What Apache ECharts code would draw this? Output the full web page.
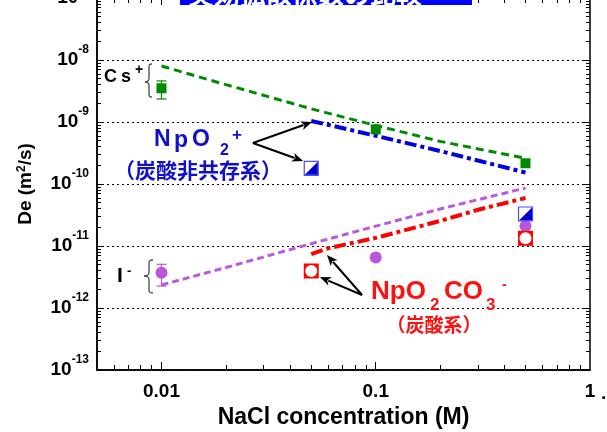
<!DOCTYPE html>
<html>
<head>
<meta charset="utf-8">
<script src="https://cdn.jsdelivr.net/npm/echarts@6/dist/echarts.min.js"></script>
<style>
  html, body { margin: 0; padding: 0; background: #fff; }
  #chart { width: 607px; height: 432px; }
</style>
</head>
<body>
<div id="chart"></div>
<script>
// Axis ranges and tick labels
const X_MIN = 0.005, X_MAX = 1;
const Y_MIN = 1e-13, Y_MAX = 1e-7;
const xMajorTicks = [0.01, 0.1, 1];
const xTickLabels = ['0.01', '0.1', '1'];

// Measured effective diffusivities (m2/s) vs NaCl concentration (M)
const csConc = [0.01, 0.1, 0.5];
const csDe = [3.5e-9, 7.6e-10, 2.16e-10];
const csErrConc = [0.01];
const csErrLow = [2.35e-9];
const csErrHigh = [4.6e-9];

const iConc = [0.01, 0.1, 0.5];
const iDe = [3.7e-12, 6.5e-12, 2.1e-11];
const iErrConc = [0.01];
const iErrLow = [2.26e-12];
const iErrHigh = [5.07e-12];

const npConc = [0.05, 0.5];
const npDe = [1.79e-10, 3.28e-11];

const npcConc = [0.05, 0.5];
const npcDe = [3.95e-12, 1.33e-11];

// Calculated curves
const csLineConc = [0.01, 0.02, 0.05, 0.1, 0.2, 0.5];
const csLineDe = [8.0e-9, 4.0e-9, 1.63e-9, 8.8e-10, 4.87e-10, 2.6e-10];

const npLineConc = [0.05, 0.1, 0.2, 0.5];
const npLineDe = [1.04e-9, 6.0e-10, 3.4e-10, 1.53e-10];

const iLineConc = [0.01, 0.02, 0.05, 0.1, 0.2, 0.5];
const iLineDe = [2.35e-12, 4.5e-12, 1.09e-11, 2.09e-11, 3.96e-11, 8.6e-11];

const npcLineConc = [0.05, 0.06, 0.1, 0.2, 0.3, 0.5];
const npcLineDe = [7.4e-12, 9.2e-12, 1.35e-11, 2.54e-11, 3.84e-11, 5.94e-11];

// Callout arrows, [from, to] in data coordinates
const npArrows = [
  [[0.0267, 4.58e-10], [0.0504, 1.0e-9]],
  [[0.0267, 4.58e-10], [0.0458, 2.35e-10]]
];
const npcArrows = [
  [[0.0863, 1.62e-12], [0.0592, 7.16e-12]],
  [[0.0863, 1.62e-12], [0.0549, 3.16e-12]]
];

const zip = (a, b) => a.map((v, i) => [v, b[i]]);

const LATIN = "'Liberation Sans', Arial, sans-serif";
const CJK = "'Noto Sans CJK JP', 'Liberation Sans', sans-serif";
const BLUE_TXT = '#1010cc';
const RED_TXT = '#ff1010';

// Log-axis tick positions: decades (major) and 2..9 (minor), strictly inside the frame
const xMinorTicks = [], xMajorInner = [];
for (let d = -3; d <= 0; d++) {
  for (let m = 1; m <= 9; m++) {
    const v = m * Math.pow(10, d);
    if (v > X_MIN * 1.001 && v < X_MAX * 0.999) (m === 1 ? xMajorInner : xMinorTicks).push(v);
  }
}
const yMinorTicks = [], yMajorInner = [];
for (let d = -13; d <= -7; d++) {
  for (let m = 1; m <= 9; m++) {
    const v = m * Math.pow(10, d);
    if (v > Y_MIN * 1.001 && v < Y_MAX * 0.999) (m === 1 ? yMajorInner : yMinorTicks).push(v);
  }
}

function txt(x, y, text, font, color, extra) {
  return {
    type: 'text', x: x, y: y, silent: true, z: 20,
    style: Object.assign({ text: text, font: font, fill: color, textVerticalAlign: 'middle', textAlign: 'left' }, extra || {})
  };
}

// Curly brace opening to the right: ends at xEnd, stem at xStem, tip at xTip
function brace(xEnd, xStem, xTip, yTop, yTip, yBot) {
  const st = () => ({ fill: 'none', stroke: '#555', lineWidth: 1.4 });
  const r = 4;
  return { type: 'group', silent: true, children: [
    { type: 'bezierCurve', shape: { x1: xEnd, y1: yTop, cpx1: xStem, cpy1: yTop, cpx2: xStem, cpy2: yTop + 1, x2: xStem, y2: yTop + r }, style: st() },
    { type: 'line', shape: { x1: xStem, y1: yTop + r, x2: xStem, y2: yTip - r }, style: st() },
    { type: 'bezierCurve', shape: { x1: xStem, y1: yTip - r, cpx1: xStem, cpy1: yTip - 1, cpx2: xStem - 1, cpy2: yTip, x2: xTip, y2: yTip }, style: st() },
    { type: 'bezierCurve', shape: { x1: xTip, y1: yTip, cpx1: xStem - 1, cpy1: yTip, cpx2: xStem, cpy2: yTip + 1, x2: xStem, y2: yTip + r }, style: st() },
    { type: 'line', shape: { x1: xStem, y1: yTip + r, x2: xStem, y2: yBot - r }, style: st() },
    { type: 'bezierCurve', shape: { x1: xStem, y1: yBot - r, cpx1: xStem, cpy1: yBot - 1, cpx2: xStem, cpy2: yBot, x2: xEnd, y2: yBot }, style: st() }
  ] };
}

const staticGraphics = [
  // heading banner along the top edge
  { type: 'rect', shape: { x: 180, y: -30, width: 292, height: 35 }, style: { fill: '#0000ff' }, silent: true, z: 20 },
  { type: 'text', x: 188, y: 7, silent: true, z: 21,
    style: { text: '実効拡散係数の比較', font: 'bold 26px ' + CJK, fill: '#fff', textVerticalAlign: 'bottom' } },

  // Cs+ label and brace
  txt(104, 77, 'C', 'bold 18px ' + LATIN, '#000'),
  txt(121, 77, 's', 'bold 18px ' + LATIN, '#000'),
  txt(135, 70, '+', 'bold 14px ' + LATIN, '#000'),
  brace(152, 149, 145, 64, 82, 97),

  // I- label and brace
  txt(117, 276, 'I', 'bold 21px ' + LATIN, '#000'),
  txt(127, 271, '-', 'bold 13px ' + LATIN, '#000'),
  brace(153, 149, 144, 260, 276, 293),

  // NpO2+ label
  txt(154, 140, 'N', 'bold 23px ' + LATIN, BLUE_TXT),
  txt(174, 141, 'p', 'bold 23px ' + LATIN, BLUE_TXT),
  txt(192, 140, 'O', 'bold 23px ' + LATIN, BLUE_TXT),
  txt(220, 151, '2', 'bold 16px ' + LATIN, BLUE_TXT),
  txt(232, 135, '+', 'bold 17px ' + LATIN, BLUE_TXT),
  txt(198, 170, '（炭酸非共存系）', 'bold 21px ' + CJK, BLUE_TXT, { textAlign: 'center' }),

  // NpO2CO3- label
  txt(371, 292, 'NpO', 'bold 26px ' + LATIN, RED_TXT),
  txt(430, 305, '2', 'bold 17px ' + LATIN, RED_TXT),
  txt(444, 292, 'CO', 'bold 26px ' + LATIN, RED_TXT),
  txt(486, 305, '3', 'bold 17px ' + LATIN, RED_TXT),
  txt(502, 285, '-', 'bold 14px ' + LATIN, RED_TXT),
  txt(434, 325, '（炭酸系）', 'bold 19px ' + CJK, RED_TXT, { textAlign: 'center' }),

  txt(601, 394, '.', 'bold 19px ' + LATIN, '#000')
];

// Tick-only companion axes (same scale as the main axes) for the inward frame ticks
function tickAxis(kind, position, values, len) {
  return {
    type: 'log', logBase: 10, position: position,
    min: kind === 'x' ? X_MIN : Y_MIN, max: kind === 'x' ? X_MAX : Y_MAX,
    axisLine: { show: false },
    axisLabel: { show: false },
    splitLine: { show: false },
    axisTick: { show: true, inside: true, length: len, customValues: values, lineStyle: { color: '#000', width: 1 } }
  };
}

const chart = echarts.init(document.getElementById('chart'), null, { renderer: 'canvas' });
chart.setOption({
  animation: false,
  backgroundColor: '#fff',
  grid: { left: 97, right: 17, top: -2, bottom: 62, outerBoundsMode: 'none', containLabel: false,
    show: true, borderColor: '#000', borderWidth: 1.5, backgroundColor: 'transparent' },
  xAxis: [{
    type: 'log', logBase: 10, min: X_MIN, max: X_MAX, splitNumber: 3, position: 'bottom',
    axisLine: { show: true, lineStyle: { color: '#000', width: 1.5 } },
    axisTick: { show: false },
    splitLine: { show: false },
    axisLabel: {
      margin: 12, color: '#000', fontFamily: LATIN, fontWeight: 'bold', fontSize: 19,
      formatter: function (v) {
        for (let i = 0; i < xMajorTicks.length; i++) {
          if (Math.abs(Math.log10(v) - Math.log10(xMajorTicks[i])) < 1e-6) return xTickLabels[i];
        }
        return '';
      }
    },
    name: 'NaCl concentration (M)', nameLocation: 'middle', nameGap: 35,
    nameTextStyle: { color: '#000', fontFamily: LATIN, fontWeight: 'bold', fontSize: 23 }
  },
    tickAxis('x', 'bottom', xMinorTicks, 5),
    tickAxis('x', 'bottom', xMajorInner, 8),
    tickAxis('x', 'top', xMinorTicks, 5),
    tickAxis('x', 'top', xMajorInner, 7)
  ],
  yAxis: [{
    type: 'log', logBase: 10, min: Y_MIN, max: Y_MAX, splitNumber: 6, position: 'left',
    axisLine: { show: true, lineStyle: { color: '#000', width: 1.5 } },
    axisTick: { show: false },
    splitLine: { show: true, lineStyle: { color: '#000', width: 1, type: [2, 3] } },
    axisLabel: {
      margin: 8, color: '#000',
      formatter: function (v) {
        const e = Math.round(Math.log10(v));
        return '{b|10}{s|' + e + '}';
      },
      rich: {
        b: { fontFamily: LATIN, fontWeight: 'bold', fontSize: 19, lineHeight: 32, color: '#000' },
        s: { fontFamily: LATIN, fontWeight: 'bold', fontSize: 12, lineHeight: 12, verticalAlign: 'top', color: '#000' }
      }
    },
    name: 'De (m{s|2}/s)', nameLocation: 'middle', nameGap: 62, nameRotate: 90,
    nameTextStyle: {
      color: '#000', fontFamily: LATIN, fontWeight: 'bold', fontSize: 19,
      rich: { s: { fontFamily: LATIN, fontWeight: 'bold', fontSize: 12, verticalAlign: 'top', lineHeight: 12 } }
    }
  },
    tickAxis('y', 'left', yMinorTicks, 4),
    tickAxis('y', 'left', yMajorInner, 6),
    tickAxis('y', 'right', yMinorTicks, 4),
    tickAxis('y', 'right', yMajorInner, 6)
  ],
  series: [
    { name: 'Cs+ calc', type: 'line', data: zip(csLineConc, csLineDe), showSymbol: false, z: 2, silent: true,
      lineStyle: { color: '#008a00', width: 3, type: [8, 5] } },
    { name: 'NpO2+ calc', type: 'line', data: zip(npLineConc, npLineDe), showSymbol: false, z: 2, silent: true,
      lineStyle: { color: '#0000e0', width: 4, type: [12, 4, 4, 4] } },
    { name: 'I- calc', type: 'line', data: zip(iLineConc, iLineDe), showSymbol: false, z: 2, silent: true,
      lineStyle: { color: '#bb5ade', width: 3, type: [7, 4] } },
    { name: 'NpO2CO3- calc', type: 'line', data: zip(npcLineConc, npcLineDe), showSymbol: false, z: 2, silent: true,
      lineStyle: { color: '#ff0000', width: 4, type: [12, 4, 4, 4] } },
    { name: 'Cs+', type: 'scatter', data: zip(csConc, csDe), symbol: 'rect', symbolSize: 10, z: 4,
      itemStyle: { color: '#008a00', opacity: 1 } },
    { name: 'I-', type: 'scatter', data: zip(iConc, iDe), symbol: 'circle', symbolSize: 12, z: 4,
      itemStyle: { color: '#bb55dd', opacity: 1 } },
    { name: 'NpO2+', type: 'scatter', data: zip(npConc, npDe), symbol: 'rect', symbolSize: 14, z: 4,
      itemStyle: { color: '#fff', borderColor: '#4a4aff', borderWidth: 1.2, opacity: 1 } },
    { name: 'NpO2+ fill', type: 'scatter', data: zip(npConc, npDe), symbol: 'path://M0,10 L10,0 L10,10 Z', symbolSize: 13, z: 5,
      itemStyle: { color: '#0000cc', opacity: 1 } },
    { name: 'NpO2CO3-', type: 'scatter', data: zip(npcConc, npcDe), symbol: 'rect', symbolSize: 15, z: 4,
      itemStyle: { color: '#ff0000', opacity: 1 } },
    { name: 'NpO2CO3- hole', type: 'scatter', data: zip(npcConc, npcDe), symbol: 'circle', symbolSize: 12, z: 5,
      itemStyle: { color: '#fff', opacity: 1 } }
  ]
});

// Error bars and callout arrows placed through the chart's own axis scales
const toPx = p => chart.convertToPixel({ xAxisIndex: 0, yAxisIndex: 0 }, p);
const overlay = [];
function addErrorBars(concs, lows, highs, color) {
  concs.forEach((c, i) => {
    const lo = toPx([c, lows[i]]), hi = toPx([c, highs[i]]);
    const w = 5;
    const st = () => ({ stroke: color, lineWidth: 1.2 });
    overlay.push({ type: 'line', silent: true, z: 3, shape: { x1: lo[0], y1: lo[1], x2: hi[0], y2: hi[1] }, style: st() });
    overlay.push({ type: 'line', silent: true, z: 3, shape: { x1: lo[0] - w, y1: lo[1], x2: lo[0] + w, y2: lo[1] }, style: st() });
    overlay.push({ type: 'line', silent: true, z: 3, shape: { x1: hi[0] - w, y1: hi[1], x2: hi[0] + w, y2: hi[1] }, style: st() });
  });
}
addErrorBars(csErrConc, csErrLow, csErrHigh, '#008a00');
addErrorBars(iErrConc, iErrLow, iErrHigh, '#bb5ade');

npArrows.concat(npcArrows).forEach(([from, to]) => {
  const a = toPx(from), b = toPx(to);
  const dx = b[0] - a[0], dy = b[1] - a[1];
  const L = Math.hypot(dx, dy), ux = dx / L, uy = dy / L;
  const head = 11, hw = 4.5;
  const bx = b[0] - ux * head, by = b[1] - uy * head;
  overlay.push({ type: 'line', silent: true, z: 16,
    shape: { x1: a[0], y1: a[1], x2: bx + ux * 2, y2: by + uy * 2 }, style: { stroke: '#000', lineWidth: 2 } });
  overlay.push({ type: 'polygon', silent: true, z: 16,
    shape: { points: [[b[0], b[1]], [bx - uy * hw, by + ux * hw], [bx + ux * 3, by + uy * 3], [bx + uy * hw, by - ux * hw]] },
    style: { fill: '#000' } });
});
chart.setOption({ graphic: staticGraphics.concat(overlay) });
</script>
</body>
</html>
